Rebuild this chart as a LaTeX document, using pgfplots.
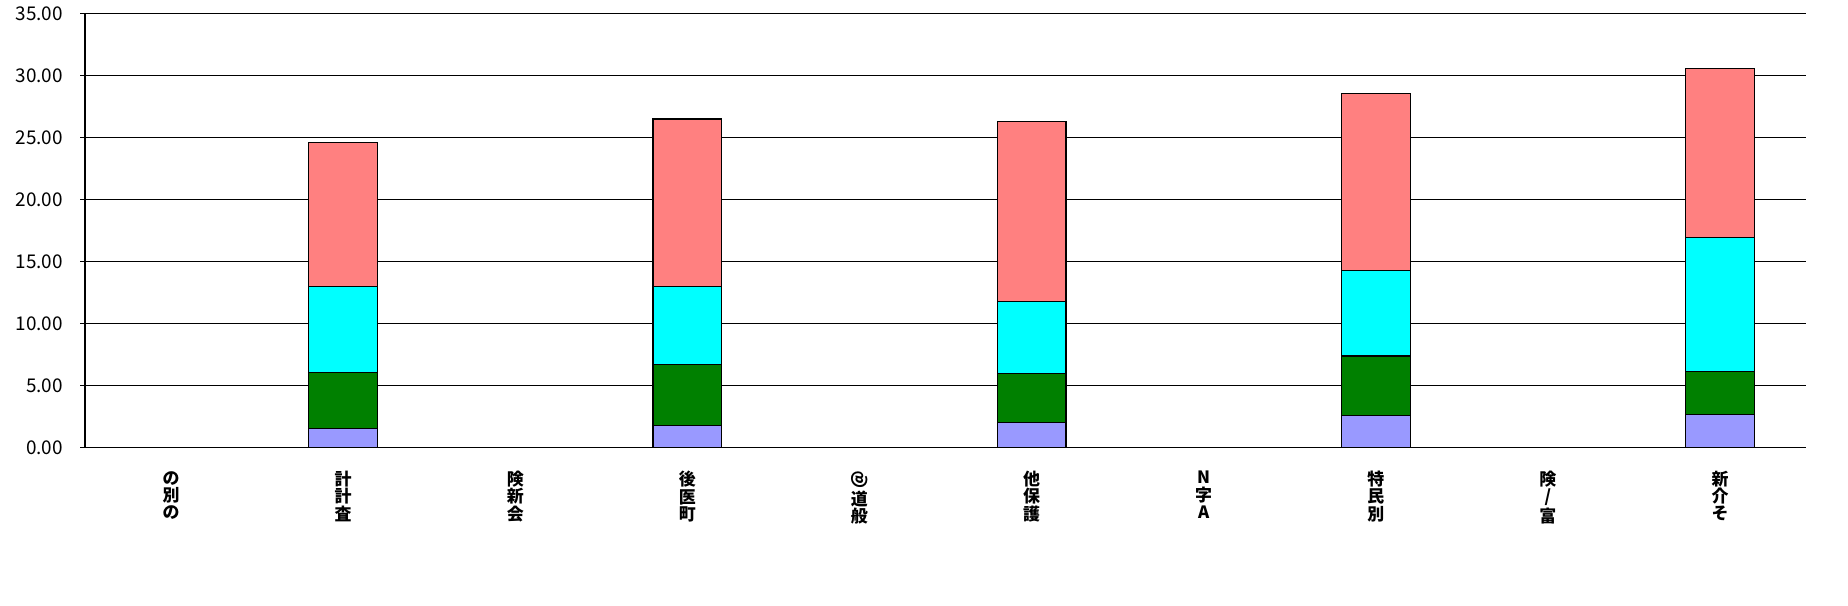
\documentclass[border=0pt]{standalone}
\usepackage{pgfplots}
\pgfplotsset{compat=1.18}
\usepackage{fontspec}
\setmainfont{Noto Sans CJK JP}
\usepackage{graphicx}
\definecolor{cA}{HTML}{9999FF}
\definecolor{cB}{HTML}{008000}
\definecolor{cC}{HTML}{00FFFF}
\definecolor{cD}{HTML}{FF8080}
\begin{document}
\begin{tikzpicture}[x=1bp,y=1bp]
\path[use as bounding box] (0,0) rectangle (924,302.5);
\begin{axis}[
  at={(42.5bp,78.85bp)}, anchor=south west,
  scale only axis, width=860.5bp, height=217bp,
  ybar stacked, bar width=0.4,
  xmin=-0.5, xmax=9.5, ymin=0, ymax=35,
  ytick={0,5,...,35},
  xtick={0,...,9},
  xticklabels={{の\\別\\の},{計\\計\\査},{険\\新\\会},{後\\医\\町},{\rotatebox[origin=c]{90}{@}\\道\\般},{他\\保\\護},{N\\字\\A},{特\\民\\別},{険\\/\\富},{新\\介\\そ}},
  x tick label style={align=center, font=\fontsize{8.5}{8.6}\selectfont\bfseries, yshift=-6bp, anchor=north},
  y tick label style={font=\fontsize{9.5}{10}\selectfont, xshift=-5bp},
  yticklabel style={/pgf/number format/.cd, fixed, fixed zerofill, precision=2, assume math mode=true},
  axis x line*=bottom, axis y line*=left,
  axis line style={-, line width=0.6bp},
  ymajorgrids, grid style={black, line width=0.6bp},
  tick align=outside, major tick length=2.5bp,
  xtick style={draw=none},
  ytick style={black, line width=0.6bp},
  every axis plot/.append style={draw=black, line width=0.6bp},
]
\addplot[fill=cA] coordinates {(1,1.53) (3,1.77) (5,2.02) (7,2.58) (9,2.66)};
\addplot[fill=cB] coordinates {(1,4.52) (3,4.92) (5,3.95) (7,4.78) (9,3.47)};
\addplot[fill=cC] coordinates {(1,6.93) (3,6.31) (5,5.80) (7,6.91) (9,10.81)};
\addplot[fill=cD] coordinates {(1,11.62) (3,13.48) (5,14.52) (7,14.28) (9,13.62)};
\end{axis}
\end{tikzpicture}
\end{document}
